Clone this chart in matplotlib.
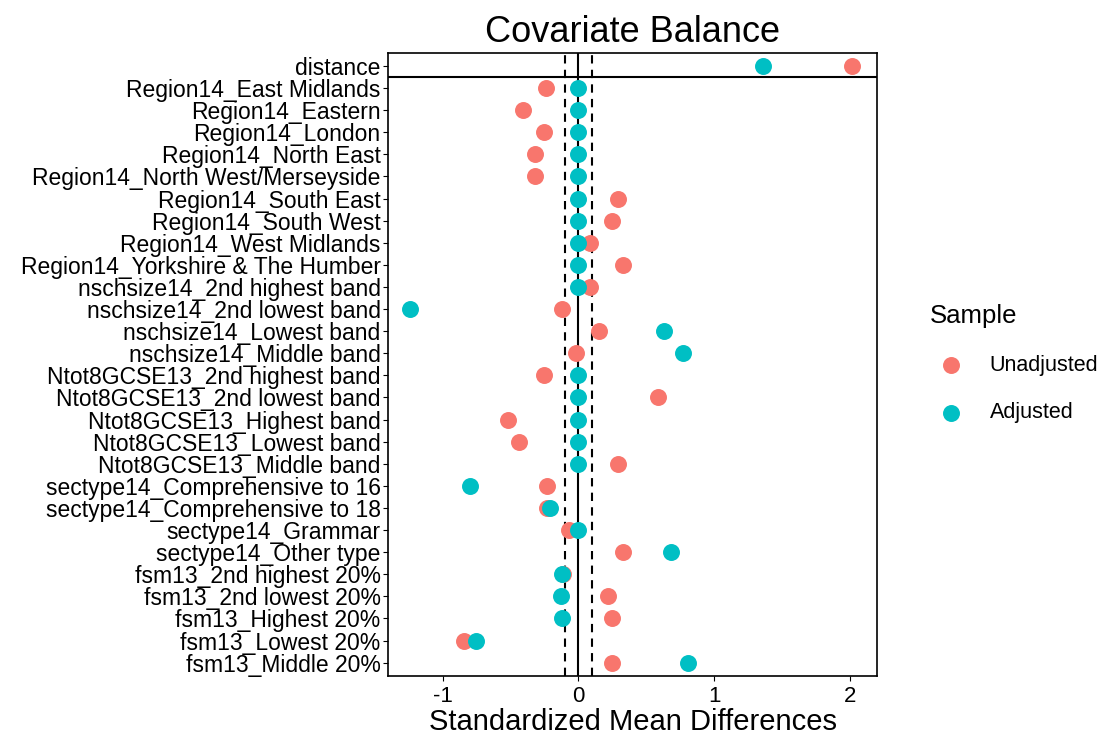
import matplotlib
matplotlib.use("Agg")
import matplotlib.pyplot as plt
import numpy as np

plt.rcParams['font.family'] = ['Liberation Sans', 'DejaVu Sans']
plt.rcParams['axes.unicode_minus'] = False

labels = ["distance", "Region14_East Midlands", "Region14_Eastern", "Region14_London",
          "Region14_North East", "Region14_North West/Merseyside", "Region14_South East",
          "Region14_South West", "Region14_West Midlands", "Region14_Yorkshire & The Humber",
          "nschsize14_2nd highest band", "nschsize14_2nd lowest band", "nschsize14_Lowest band",
          "nschsize14_Middle band", "Ntot8GCSE13_2nd highest band", "Ntot8GCSE13_2nd lowest band",
          "Ntot8GCSE13_Highest band", "Ntot8GCSE13_Lowest band", "Ntot8GCSE13_Middle band",
          "sectype14_Comprehensive to 16", "sectype14_Comprehensive to 18", "sectype14_Grammar",
          "sectype14_Other type", "fsm13_2nd highest 20%", "fsm13_2nd lowest 20%",
          "fsm13_Highest 20%", "fsm13_Lowest 20%", "fsm13_Middle 20%"]
unadjusted = [2.02, -0.24, -0.41, -0.25, -0.32, -0.32, 0.29, 0.25, 0.09, 0.33,
              0.09, -0.12, 0.15, -0.02, -0.25, 0.59, -0.52, -0.44, 0.29,
              -0.23, -0.23, -0.07, 0.33, -0.11, 0.22, 0.25, -0.84, 0.25]
adjusted = [1.36, 0, 0, 0, 0, 0, 0, 0, 0, 0,
            0, -1.24, 0.63, 0.77, 0, 0, 0, 0, 0,
            -0.80, -0.21, 0, 0.68, -0.12, -0.13, -0.12, -0.75, 0.81]

fig = plt.figure(figsize=(11.03, 7.42), dpi=100)
ax = fig.add_axes([0.352, 0.089, 0.443, 0.84])
y = np.arange(len(labels))
ax.axvline(0, color='black', lw=1.5, zorder=1)
ax.axvline(-0.1, color='black', lw=1.5, ls=(0, (4, 3)), zorder=1)
ax.axvline(0.1, color='black', lw=1.5, ls=(0, (4, 3)), zorder=1)
ax.axhline(0.5, color='black', lw=1.5, zorder=1)
ax.scatter(unadjusted, y, s=125, color='#F8766D', zorder=3, label='Unadjusted')
ax.scatter(adjusted, y, s=125, color='#00BFC4', zorder=3, label='Adjusted')
ax.set_yticks(y)
ax.set_yticklabels(labels, fontsize=16.5)
ax.set_ylim(len(labels) - 0.4, -0.6)
ax.set_xlim(-1.4, 2.2)
ax.set_xticks([-1, 0, 1, 2])
ax.tick_params(axis='x', labelsize=16)
ax.tick_params(axis='y', pad=2)
ax.set_xlabel("Standardized Mean Differences", fontsize=21, labelpad=1)
ax.set_title("Covariate Balance", fontsize=26, pad=8)
for s in ax.spines.values():
    s.set_linewidth(1.2)
fig.legend(loc='center left', bbox_to_anchor=(0.825, 0.51), title='Sample', frameon=False,
           fontsize=15.5, title_fontsize=18.5, markerscale=1.0, handletextpad=0.8,
           labelspacing=1.25, alignment='left')
fig.savefig("out.png", dpi=100)
